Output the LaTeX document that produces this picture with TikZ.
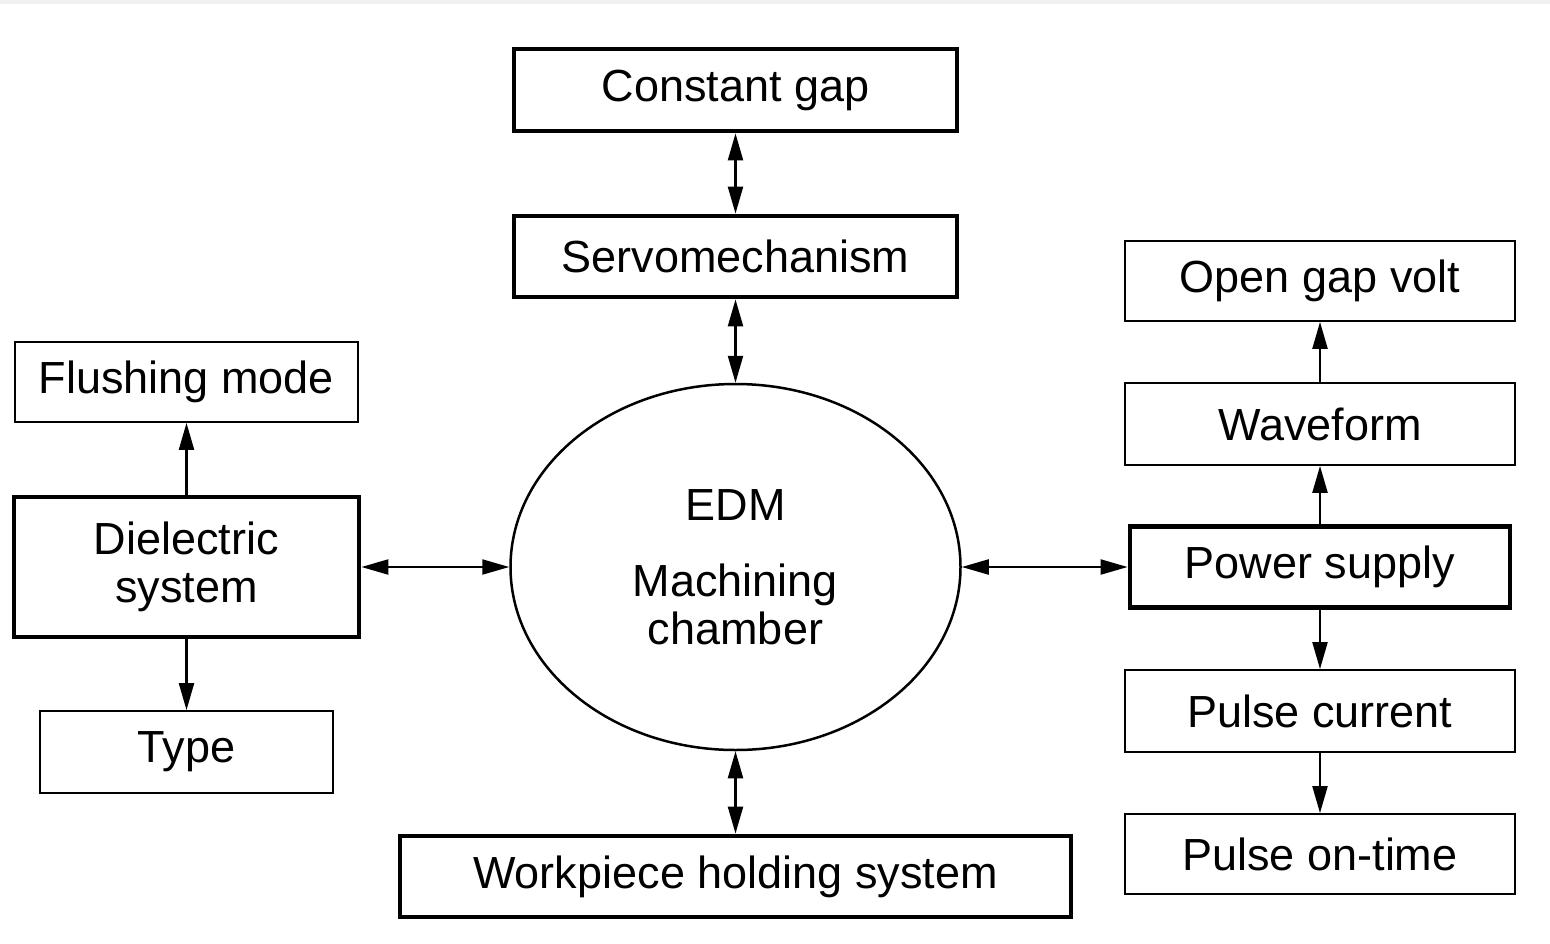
\documentclass[tikz,border=0pt]{standalone}
\usepackage{fontspec}
\setmainfont{Liberation Sans}
\usetikzlibrary{arrows.meta, shapes.geometric}

\tikzset{
    thinbox/.style={draw, line width=1.8pt, inner sep=0pt, align=center},
    thickbox/.style={draw, line width=4.8pt, inner sep=0pt, align=center},
    link/.style={line width=2.2pt, {Triangle[length=27pt,width=15pt]}-{Triangle[length=27pt,width=15pt]}},
    onelink/.style={line width=2.2pt, -{Triangle[length=27pt,width=15pt]}}
}

\begin{document}
\begin{tikzpicture}[x=1pt, y=-1pt, font=\fontsize{45}{48}\selectfont]
        \useasboundingbox (0, 0) rectangle (1550, 943);
        \fill[white] (0, 0) rectangle (1550, 943);
        \fill[gray!12] (0, 0) rectangle (1550, 4);

        % centre column
        \node[thickbox, minimum width=443pt, minimum height=82pt] (gap) at (735.5, 90) {Constant gap};
        \node[thickbox, minimum width=443pt, minimum height=81pt] (servo) at (735.5, 256.5) {Servomechanism};
        \node[ellipse, draw, line width=2.5pt, inner sep=0pt, minimum width=450pt, minimum height=366pt, align=center]
            (edm) at (735.5, 567) {EDM\\[28pt]Machining\\chamber};
        \node[thickbox, minimum width=671pt, minimum height=81pt] (work) at (735.5, 876.5) {Workpiece holding system};

        % left column
        \node[thinbox, minimum width=343pt, minimum height=80pt] (flush) at (186.5, 382) {Flushing mode};
        \node[thickbox, minimum width=345pt, minimum height=140pt] (diel) at (186.5, 567) {Dielectric\\system};
        \node[thinbox, minimum width=293pt, minimum height=82pt] (type) at (186.5, 752) {Type};

        % right column
        \node[thinbox, minimum width=390pt, minimum height=80pt] (volt) at (1320, 281) {Open gap volt};
        \node[thinbox, minimum width=390pt, minimum height=82pt] (wave) at (1320, 424) {Waveform};
        \node[thickbox, minimum width=380pt, minimum height=81pt] (power) at (1320, 567) {Power supply};
        \node[thinbox, minimum width=390pt, minimum height=82pt] (pulse) at (1320, 711) {Pulse current};
        \node[thinbox, minimum width=390pt, minimum height=80pt] (ontime) at (1320, 854) {Pulse on-time};

        \draw[link] (gap) -- (servo);
        \draw[link] (servo) -- (edm.north);
        \draw[link] (edm.south) -- (work);
        \draw[link] (diel) -- (edm.west);
        \draw[link] (edm.east) -- (power);
        \draw[onelink] (diel) -- (flush);
        \draw[onelink] (diel) -- (type);
        \draw[onelink] (power) -- (wave);
        \draw[onelink] (wave) -- (volt);
        \draw[onelink] (power) -- (pulse);
        \draw[onelink] (pulse) -- (ontime);
    \end{tikzpicture}
\end{document}
